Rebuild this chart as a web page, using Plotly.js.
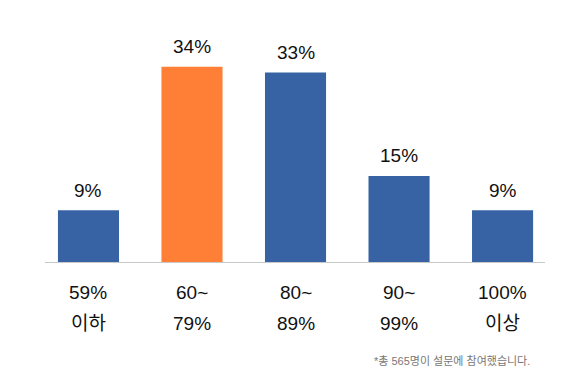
<!DOCTYPE html>
<html><head><meta charset="utf-8">
<script src="https://cdn.plot.ly/plotly-3.0.1.min.js"></script>
<style>html,body{margin:0;padding:0;background:#fff}</style>
</head><body><div id="chart" style="width:588px;height:382px"></div>
<script>
const categories = ["59% 이하", "60~79%", "80~89%", "90~99%", "100% 이상"];
const labelLine1 = ["59%", "60~", "80~", "90~", "100%"];
const labelLine2 = ["이하", "79%", "89%", "99%", "이상"];
const values = [9, 34, 33, 15, 9];
const barColors = ["#3763A4", "#FE7F35", "#3763A4", "#3763A4", "#3763A4"];
const footnote = "*총 565명이 설문에 참여했습니다.";

const FONT = "Liberation Sans, Arial, 'Noto Sans CJK KR', sans-serif";
const idx = categories.map((_, i) => i);

const annotations = [];
idx.forEach(i => {
  annotations.push({x: i, y: values[i], xref: 'x', yref: 'y', text: values[i] + '%',
    showarrow: false, yanchor: 'middle', yshift: 20, font: {size: 19, color: '#111', family: FONT}});
  annotations.push({x: i, y: 0, xref: 'x', yref: 'paper', text: labelLine1[i],
    showarrow: false, yanchor: 'middle', yshift: -30, font: {size: 19, color: '#111', family: FONT}});
  annotations.push({x: i, y: 0, xref: 'x', yref: 'paper', text: labelLine2[i],
    showarrow: false, yanchor: 'middle', yshift: -61, font: {size: 19, color: '#111', family: FONT}});
});
annotations.push({x: 532, y: 21, xref: 'paper', yref: 'paper', text: footnote, showarrow: false,
  xanchor: 'right', yanchor: 'middle', font: {size: 11, color: '#777', family: FONT}});

// fix paper coords for footnote using pixel-based placement
annotations[annotations.length-1].xref = 'paper';
annotations[annotations.length-1].x = (532 - 45) / 500;
annotations[annotations.length-1].y = -(361 - 262) / 230;

Plotly.newPlot('chart', [{
  type: 'bar', x: idx, y: values, marker: {color: barColors}, hoverinfo: 'none'
}], {
  width: 588, height: 382,
  margin: {l: 45, r: 43, t: 32, b: 120, pad: 0},
  paper_bgcolor: '#fff', plot_bgcolor: '#fff',
  bargap: 0.41,
  showlegend: false,
  xaxis: {range: [-0.42, 4.41], showticklabels: false, showgrid: false, zeroline: false,
    showline: true, linecolor: '#C8C8C8', linewidth: 1, ticks: ''},
  yaxis: {range: [0, 40.07], visible: false, showgrid: false, zeroline: false},
  annotations: annotations
}, {displayModeBar: false, staticPlot: true});
</script></body></html>
